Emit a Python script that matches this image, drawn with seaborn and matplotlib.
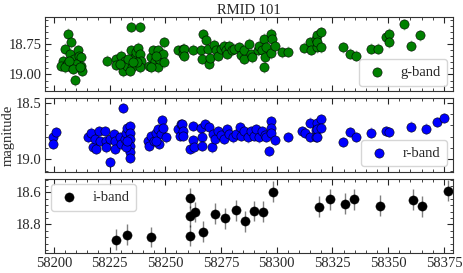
import numpy as np
import pandas as pd
import matplotlib
matplotlib.use('Agg')
import matplotlib.pyplot as plt
from matplotlib.ticker import MultipleLocator, FormatStrFormatter
import seaborn as sns

sns.set_style("ticks")
plt.rcParams['font.family'] = ['Liberation Serif', 'DejaVu Serif']

# g-band light curve (MJD, magnitude)
g_mjd = [58206.4, 58207.6, 58205.2, 58204.2, 58203.4, 58205.7, 58207.2, 58207.9, 58209.4, 58209.1,
         58210.9, 58211.3, 58212.4, 58212.1, 58212.7, 58210.1, 58204.9, 58206.7, 58208.6, 58211.6,
         58224.0, 58228.0, 58228.0, 58230.0, 58231.0, 58231.8, 58233.0, 58234.4, 58234.7, 58235.0,
         58236.2, 58237.0, 58237.7, 58238.6, 58238.5, 58238.9, 58238.5, 58237.4, 58233.2, 58229.5,
         58234.0, 58235.5,
         58242.5, 58243.4, 58244.4, 58245.2, 58246.6, 58246.6, 58247.4, 58248.9, 58249.6, 58249.3,
         58243.7, 58245.9, 58255.6, 58257.8, 58257.8,
         58258.6, 58258.6, 58262.3, 58266.0, 58267.1, 58268.3, 58266.3, 58269.0, 58269.5, 58270.1,
         58272.0, 58272.8, 58273.5, 58275.0, 58276.5, 58277.2, 58277.9, 58278.7, 58279.9, 58280.9,
         58282.9, 58283.9, 58285.4, 58285.4, 58287.7, 58288.4, 58289.1, 58291.4, 58292.1, 58293.3,
         58294.4, 58294.8, 58294.4, 58295.4, 58297.3, 58297.3, 58297.8, 58299.3, 58302.3, 58305.2,
         58312.2, 58314.9, 58315.2, 58317.8, 58318.2, 58317.9, 58317.9, 58319.7, 58319.7,
         58329.8, 58332.7, 58335.6, 58342.4, 58345.5, 58349.2, 58350.3, 58350.3, 58357.0, 58360.2,
         58364.1]
g_mag = [18.664, 18.733, 18.789, 18.886, 18.928, 18.914, 18.830, 18.940, 19.048, 18.872,
         18.800, 18.844, 18.858, 18.928, 18.970, 18.914, 18.940, 18.886, 18.955, 18.940,
         18.886, 18.872, 18.920, 18.844, 18.975, 18.886, 18.928, 18.800, 18.608, 18.940,
         18.858, 18.817, 18.781, 18.608, 18.830, 18.886, 18.940, 18.900, 18.872, 18.914,
         18.970, 18.900,
         18.928, 18.858, 18.800, 18.886, 18.800, 18.940, 18.872, 18.830, 18.733, 18.900,
         18.940, 18.844, 18.800, 18.789, 18.830,
         18.789, 18.844, 18.794, 18.797, 18.669, 18.714, 18.872, 18.789, 18.914, 18.864,
         18.753, 18.800, 18.844, 18.789, 18.761, 18.800, 18.830, 18.761, 18.800, 18.789,
         18.775, 18.836, 18.872, 18.800, 18.747, 18.830, 18.858, 18.800, 18.761, 18.800,
         18.706, 18.858, 18.940, 18.775, 18.664, 18.825, 18.706, 18.761, 18.817, 18.811,
         18.781, 18.733, 18.794, 18.706, 18.775, 18.678, 18.733, 18.650, 18.775,
         18.775, 18.830, 18.844, 18.789, 18.789, 18.692, 18.664, 18.733, 18.586, 18.761,
         18.678]

# r-band light curve
r_mjd = [58199.7, 58199.7, 58200.8, 58215.3, 58216.5, 58217.6, 58219.1, 58218.3, 58220.1, 58220.6,
         58222.8, 58223.3, 58223.6, 58225.0, 58225.0, 58227.0, 58227.3, 58227.3, 58229.5, 58230.0,
         58231.0, 58231.8, 58232.5, 58233.0, 58234.0, 58234.0, 58234.0, 58234.0, 58234.0, 58234.0,
         58232.5, 58233.0,
         58242.2, 58242.9, 58243.7, 58244.9, 58245.9, 58246.6, 58247.4, 58248.2, 58248.4, 58248.9,
         58250.4, 58245.9, 58255.6, 58257.1, 58256.8,
         58257.5, 58257.8, 58258.1, 58262.3, 58262.3, 58261.1, 58263.1, 58266.0, 58266.5, 58266.5,
         58268.0, 58269.5, 58271.0, 58271.3, 58272.4, 58273.5, 58275.0, 58276.5, 58277.9, 58278.7,
         58280.2, 58281.7, 58283.5, 58283.9, 58285.4, 58286.9, 58288.4, 58289.9, 58290.9, 58292.1,
         58293.6, 58294.8, 58295.4, 58296.6, 58297.3, 58297.3, 58297.3, 58299.3, 58305.2, 58311.2,
         58312.7, 58314.9, 58314.9, 58317.8, 58317.8, 58317.9, 58317.9, 58320.0, 58320.0, 58317.9,
         58329.8, 58332.7, 58335.6, 58342.5, 58349.2, 58350.4, 58360.2, 58367.1, 58371.9, 58374.9]
r_mag = [18.807, 18.866, 18.757, 18.807, 18.763, 18.895, 18.910, 18.822, 18.748, 18.836,
         18.748, 18.836, 18.895, 19.026, 18.822, 18.778, 18.836, 18.910, 18.807, 18.866,
         18.544, 18.822, 18.763, 18.719, 18.705, 18.763, 18.822, 18.880, 18.939, 18.989,
         18.895, 18.836,
         18.836, 18.880, 18.792, 18.836, 18.763, 18.734, 18.866, 18.778, 18.655, 18.719,
         18.807, 18.836, 18.734, 18.690, 18.792,
         18.690, 18.748, 18.792, 18.705, 18.830, 18.910, 18.895, 18.725, 18.800, 18.880,
         18.690, 18.713, 18.895, 18.778, 18.822, 18.748, 18.784, 18.822, 18.734, 18.778,
         18.807, 18.778, 18.713, 18.792, 18.748, 18.807, 18.748, 18.792, 18.734, 18.807,
         18.748, 18.784, 18.800, 18.924, 18.660, 18.719, 18.763, 18.830, 18.800, 18.754,
         18.763, 18.675, 18.800, 18.743, 18.800, 18.675, 18.734, 18.646, 18.719, 18.800,
         18.845, 18.757, 18.800, 18.763, 18.748, 18.757, 18.710, 18.728, 18.667, 18.632]

# i-band light curve
i_mjd = [58228.0, 58232.9, 58243.7, 58261.1, 58261.1, 58263.4, 58261.1, 58267.1, 58272.1, 58276.9,
         58281.7, 58285.7, 58289.6, 58293.8, 58298.5, 58318.9, 58323.8, 58330.7, 58334.6, 58346.5,
         58361.0, 58365.0, 58376.8]
i_mag = [18.897, 18.865, 18.880, 18.634, 18.750, 18.723, 18.870, 18.845, 18.734, 18.763,
         18.711, 18.781, 18.717, 18.720, 18.595, 18.690, 18.642, 18.671, 18.642, 18.684,
         18.646, 18.686, 18.589]

g_err = 0.045
r_err = 0.045
i_err = 0.065

bands = [
    ('g-band', g_mjd, g_mag, g_err, 'green', 'lower right', (18.525, 19.14), 0.25, '%.2f'),
    ('r-band', r_mjd, r_mag, r_err, 'blue', 'lower right', (18.456, 19.114), 0.5, '%.1f'),
    ('i-band', i_mjd, i_mag, i_err, 'black', 'upper left', (18.513, 18.98), 0.2, '%.1f'),
]

fig, axes = plt.subplots(3, 1, sharex=True, figsize=(4.63, 2.73), dpi=100)
plt.subplots_adjust(left=0.097, right=0.978, top=0.938, bottom=0.073, hspace=0.085)

for ax, (name, mjd, mag, err, col, loc, ylim, major, fmt) in zip(axes, bands):
    df = pd.DataFrame({'MJD': mjd, 'mag': mag})
    if col == 'black':
        ax.errorbar(df['MJD'], df['mag'], yerr=err, fmt='none', ecolor='black', alpha=0.5, elinewidth=1.0, zorder=1)
        sns.scatterplot(data=df, x='MJD', y='mag', ax=ax, color='black', s=44, edgecolor='black',
                        linewidth=0.3, label=name, zorder=2)
    else:
        ax.errorbar(df['MJD'], df['mag'], yerr=err, fmt='none', ecolor=col, alpha=0.3, elinewidth=1.0, zorder=1)
        sns.scatterplot(data=df, x='MJD', y='mag', ax=ax, color=col, s=44, edgecolor='black',
                        linewidth=0.4, label=name, zorder=2)
    ax.set_ylim(ylim[1], ylim[0])
    ax.yaxis.set_major_locator(MultipleLocator(major))
    ax.yaxis.set_minor_locator(MultipleLocator(major / 5))
    ax.yaxis.set_major_formatter(FormatStrFormatter(fmt))
    ax.xaxis.set_major_locator(MultipleLocator(25))
    ax.xaxis.set_minor_locator(MultipleLocator(5))
    ax.tick_params(which='both', direction='in', top=True, right=True, labelsize=10.5, pad=2.5)
    ax.tick_params(which='major', length=4)
    ax.tick_params(which='minor', length=2)
    ax.set_xlabel('')
    ax.set_ylabel('')
    for sp in ax.spines.values():
        sp.set_color('#333333')
    leg = ax.legend(loc=loc, fontsize=10.5, handlelength=1.6, handletextpad=0.8,
                    borderpad=0.45, borderaxespad=0.4)

axes[0].set_xlim(58196, 58379)
axes[0].set_title('RMID 101', fontsize=10.5, pad=2)
axes[1].set_ylabel('magnitude', fontsize=10.5, labelpad=1)

plt.savefig('out.png', dpi=100)
